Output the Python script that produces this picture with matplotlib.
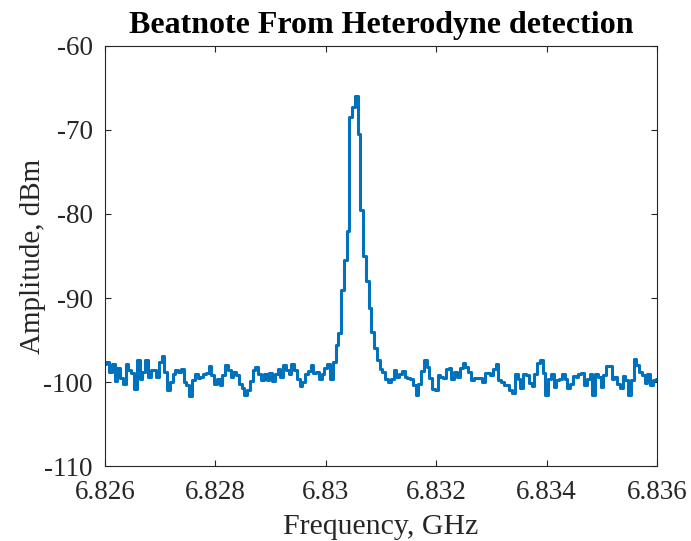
import numpy as np
import matplotlib.pyplot as plt

# spectrum analyzer trace, 0.05 MHz bins from 6.826 to 6.836 GHz
f_start, f_stop = 6.826, 6.836
amp_dbm = [
    -97.8, -97.6, -98.8, -97.8, -99.9, -98.3, -99.5, -100.2, -97.8, -98.6,
    -98.9, -100.8, -97.4, -99.6, -98.8, -97.4, -99.4, -98.6, -98.6, -99.4,
    -97.6, -96.9, -98.8, -101.0, -100.0, -99.0, -98.6, -98.8, -98.4, -100.0,
    -100.4, -101.7, -99.8, -99.0, -99.5, -99.4, -99.1, -98.9, -98.1, -99.2,
    -100.2, -99.6, -100.3, -99.2, -98.0, -98.6, -99.4, -98.8, -99.2, -100.2,
    -100.7, -101.6, -101.0, -99.9, -98.6, -98.2, -99.1, -99.8, -99.0, -99.8,
    -98.9, -99.9, -99.0, -98.4, -99.4, -98.0, -98.6, -99.0, -97.9, -98.6,
    -99.6, -100.5, -100.0, -99.1, -98.7, -98.0, -98.9, -98.8, -99.7, -99.1,
    -98.3, -97.8, -99.6, -97.6, -95.6, -94.2, -89.0, -85.5, -82.0, -68.5,
    -67.3, -66.0, -70.5, -79.5, -85.0, -88.0, -91.2, -94.0, -96.0, -97.4,
    -98.5, -98.8, -99.6, -100.0, -99.7, -98.6, -99.4, -99.0, -98.7, -99.4,
    -99.5, -99.6, -100.4, -101.6, -100.2, -98.7, -97.4, -98.2, -99.5, -100.8,
    -101.0, -99.2, -99.4, -99.5, -98.4, -98.3, -99.7, -98.8, -99.4, -98.3,
    -97.7, -98.2, -98.8, -99.8, -99.5, -99.5, -99.5, -100.0, -98.9, -98.9,
    -99.2, -98.5, -97.9, -99.8, -100.0, -100.3, -100.4, -101.0, -101.3, -99.0,
    -99.7, -100.7, -99.0, -99.2, -100.1, -100.5, -99.0, -97.7, -97.4, -98.9,
    -101.5, -99.6, -99.1, -100.6, -99.8, -99.7, -99.1, -99.7, -100.7, -100.2,
    -99.3, -99.4, -99.0, -98.9, -100.4, -99.6, -99.0, -101.5, -99.0, -99.4,
    -100.6, -99.2, -98.1, -98.1, -99.6, -99.4, -100.2, -100.7, -99.3, -99.8,
    -101.6, -99.8, -97.3, -98.0, -98.8, -99.2, -100.1, -99.0, -100.3, -99.8,
    -99.6,
]
x_ticks = [6.826, 6.828, 6.830, 6.832, 6.834, 6.836]
x_tick_labels = ["6.826", "6.828", "6.83", "6.832", "6.834", "6.836"]
y_ticks = [-110, -100, -90, -80, -70, -60]

freq_ghz = np.linspace(f_start, f_stop, len(amp_dbm))

plt.rcParams["font.family"] = ["Liberation Serif", "DejaVu Serif"]
plt.rcParams["axes.unicode_minus"] = False
text_col = "#262626"

fig = plt.figure(figsize=(6.91, 5.41), dpi=100)
ax = fig.add_axes([0.152, 0.1386, 0.799, 0.7764])

ax.plot(freq_ghz, amp_dbm, color="#0072BD", lw=2.2, drawstyle="steps-mid")

ax.set_xlim(f_start, f_stop)
ax.set_ylim(-110, -60)
ax.set_xticks(x_ticks)
ax.set_xticklabels(x_tick_labels)
ax.set_yticks(y_ticks)

ax.tick_params(direction="in", top=True, right=True, length=4, width=0.8,
               labelsize=19.5, colors=text_col)
ax.tick_params(axis="x", pad=10)
ax.tick_params(axis="y", pad=9)
for sp in ax.spines.values():
    sp.set_color(text_col)
    sp.set_linewidth(0.8)

ax.set_xlabel("Frequency, GHz", fontsize=21.5, color=text_col, labelpad=6.5)
ax.set_ylabel("Amplitude, dBm", fontsize=21, color=text_col, labelpad=-2)
ax.set_title("Beatnote From Heterodyne detection", fontsize=23,
             fontweight="bold", color="black", pad=9.5)

fig.savefig("out.png", dpi=100)
